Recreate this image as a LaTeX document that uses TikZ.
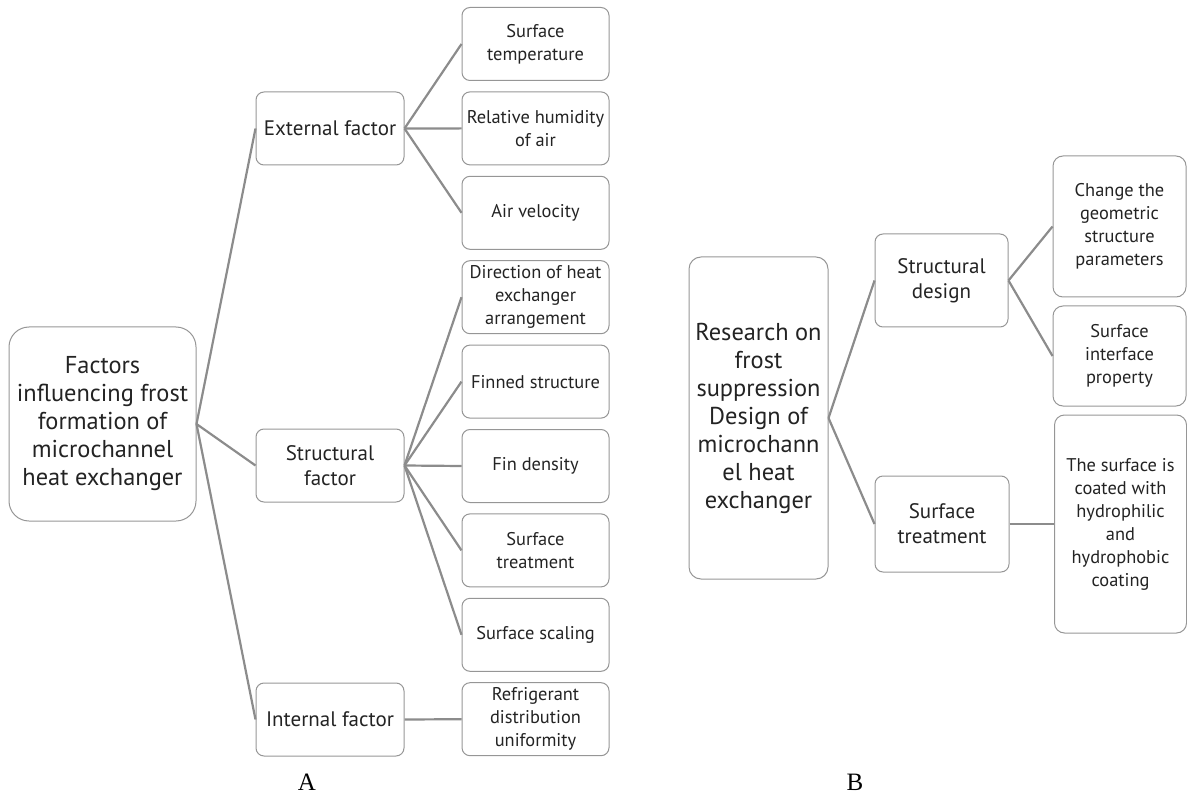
\documentclass[tikz,border=0pt]{standalone}
\usepackage{fontspec}
\setmainfont{PT Sans}
\newfontfamily\labelfont{Liberation Serif}
\definecolor{edgegray}{RGB}{140,140,140}
\definecolor{boxgray}{RGB}{150,150,150}
\definecolor{textgray}{RGB}{35,35,35}
\begin{document}
\begin{tikzpicture}[x=0.5pt, y=-0.5pt,
    box/.style={draw=boxgray, line width=0.5pt, rounded corners=4pt, align=center, inner sep=0pt, text=textgray},
    leafbox/.style={box, minimum width=73.5pt, minimum height=36.5pt, font=\fontsize{9.2}{11.5}\selectfont},
    midbox/.style={box, minimum width=74pt, minimum height=36.5pt, font=\fontsize{10.5}{12.5}\selectfont},
    rootbox/.style={box, rounded corners=10pt, font=\fontsize{12.2}{14}\selectfont},
    panel/.style={font=\labelfont\fontsize{12.5}{14}\selectfont},
    link/.style={draw=edgegray, line width=1.1pt}]
    \useasboundingbox (0,0) rectangle (1187,796);

    % A
    \node[rootbox, minimum width=93.5pt, minimum height=97pt] (fa) at (102.5,424)
        {Factors\\influencing frost\\formation of\\microchannel\\heat exchanger};
    \node[midbox] (ext) at (330,128.5) {External factor};
    \node[midbox] (strf) at (330,465.5) {Structural\\factor};
    \node[midbox] (intf) at (330,719.5) {Internal factor};
    \foreach \t [count=\i from 0] in {{Surface\\temperature}, {Relative humidity\\of air},
        {Air velocity}, {Direction of heat\\exchanger\\arrangement}, {Finned structure},
        {Fin density}, {Surface\\treatment}, {Surface scaling},
        {Refrigerant\\distribution\\uniformity}}
       \node[leafbox] (a\i) at (535.5,44+84.4*\i) {\t};
    \foreach \n in {ext,strf,intf}
       \draw[link] (fa.east) -- (\n.west);
    \foreach \i in {0,1,2}
       \draw[link] (ext.east) -- (a\i.west);
    \foreach \i in {3,...,7}
       \draw[link] (strf.east) -- (a\i.west);
    \draw[link] (intf.east) -- (a8.west);
    \node[panel] (la) at (307,782) {A};

    % B
    \node[rootbox, rounded corners=6pt, minimum width=69.5pt, minimum height=161pt] (rb) at (758.5,418)
        {Research on\\frost\\suppression\\Design of\\microchann\\el heat\\exchanger};
    \node[midbox, minimum width=66.5pt, minimum height=46.5pt] (sd) at (941.5,280.5) {Structural\\design};
    \node[midbox, minimum width=67pt, minimum height=48pt] (st) at (942,524) {Surface\\treatment};
    \node[leafbox, rounded corners=5pt, minimum width=66.5pt, minimum height=70.5pt] (b1) at (1119.5,226.5)
        {Change the\\geometric\\structure\\parameters};
    \node[leafbox, rounded corners=5pt, minimum width=66.5pt, minimum height=50pt] (b2) at (1119.5,356)
        {Surface\\interface\\property};
    \node[leafbox, rounded corners=5pt, minimum width=66pt, minimum height=109pt] (b3) at (1120.5,524)
        {The surface is\\coated with\\hydrophilic\\and\\hydrophobic\\coating};
    \draw[link] (rb.east) -- (sd.west);
    \draw[link] (rb.east) -- (st.west);
    \draw[link] (sd.east) -- (b1.west);
    \draw[link] (sd.east) -- (b2.west);
    \draw[link] (st.east) -- (b3.west);
    \node[panel] (lb) at (855,782) {B};
\end{tikzpicture}
\end{document}
